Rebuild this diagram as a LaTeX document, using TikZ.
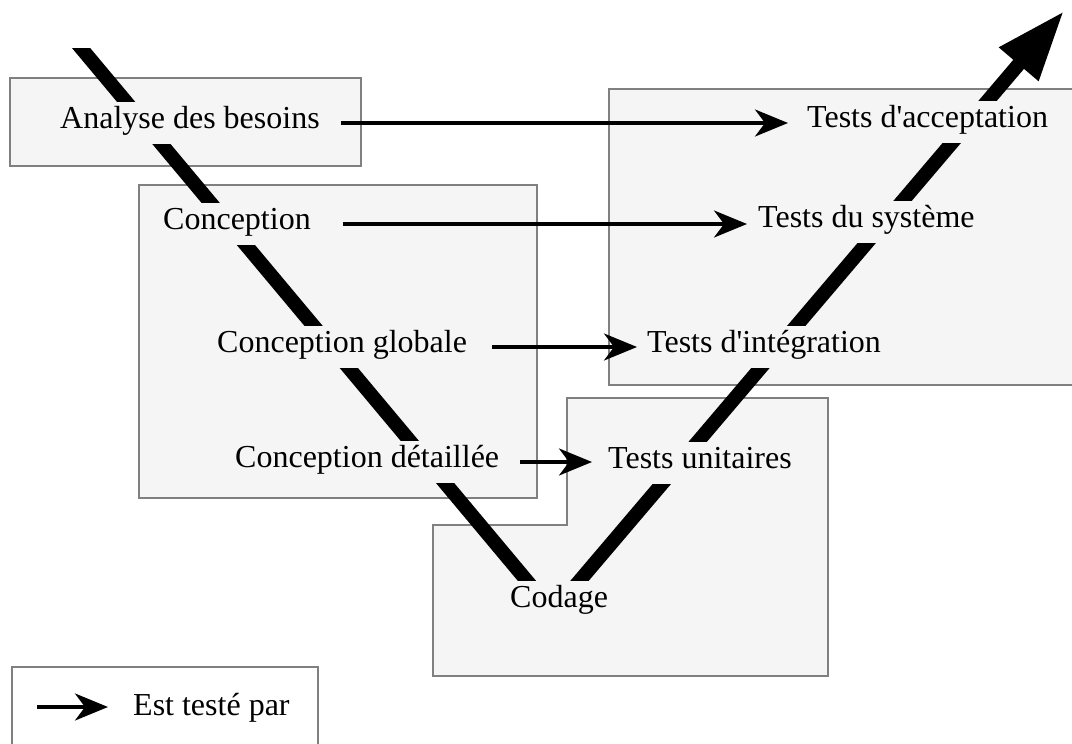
\documentclass[tikz,border=0pt]{standalone}
\usepackage{fontspec}
\newfontfamily\vf{Liberation Serif}
\usetikzlibrary{arrows.meta}
\definecolor{boxfill}{HTML}{F5F5F5}
\definecolor{boxline}{HTML}{808080}
\begin{document}
\begin{tikzpicture}[x=1pt,y=-1pt,
  box/.style={draw=boxline, line width=2.5pt, fill=boxfill},
  lbl/.style={fill=boxfill, inner xsep=10pt, inner ysep=0pt, text height=26pt, text depth=16pt, anchor=base west, font=\vf\fontsize{32}{38}\selectfont},
  vline/.style={line width=14pt, line join=round},
  test/.style={line width=3.4pt, -{Stealth[length=33pt,width=27pt,inset=10pt]}}
]
\useasboundingbox (0,0) rectangle (1072,744);
\clip (0,0) rectangle (1072,744);
\fill[white] (0,0) rectangle (1072,744);

% boxes
\draw[box] (10,78) rectangle (361,166);
\draw[box] (139,185) rectangle (537,498);
\draw[box] (609,89) rectangle (1090,385);
\draw[box] (433,525) -- (567,525) -- (567,398) -- (828,398) -- (828,676) -- (433,676) -- cycle;
\draw[box, fill=white] (12,667) rectangle (318,770);

% V-shaped cycle
\coordinate (vtop) at (66,30);
\coordinate (vbot) at (553,612);
\coordinate (vtip) at (1064,11);
\begin{scope}
\clip (0,48) -- (700,48) -- (700,0) -- (1072,0) -- (1072,744) -- (0,744) -- cycle;
\draw[vline, -{Triangle[length=70pt,width=48pt]}] (vtop) -- (vbot) -- (vtip);
\end{scope}

% labels
\node[lbl] (ana) at (50,128) {Analyse des besoins};
\node[lbl] (con) at (153,229) {Conception};
\node[lbl] (cg)  at (207,352) {Conception globale};
\node[lbl] (cd)  at (225,467) {Conception détaillée};
\node[lbl] (cod) at (500,607) {Codage};
\node[lbl] (tu)  at (598,468) {Tests unitaires};
\node[lbl] (ti)  at (637,352) {Tests d'intégration};
\node[lbl] (ts)  at (748,227) {Tests du système};
\node[lbl] (ta)  at (797,127) {Tests d'acceptation};
\node[lbl, fill=none] (leg) at (123,715) {Est testé par};

% "est testé par" arrows
\draw[test, shorten <=11pt, shorten >=9pt] (ana.east) -- (ana.east -| ta.west);
\draw[test, shorten <=22pt, shorten >=1pt] (con.east) -- (con.east -| ts.west);
\draw[test, shorten <=15pt, shorten >=0pt] (cg.east) -- (cg.east -| ti.west);
\draw[test, shorten <=11pt, shorten >=6pt] (cd.east) -- (cd.east -| tu.west);
\coordinate (lgs) at (37,707);
\draw[test, shorten >=15pt] (lgs) -- (lgs -| leg.west);
\end{tikzpicture}
\end{document}
